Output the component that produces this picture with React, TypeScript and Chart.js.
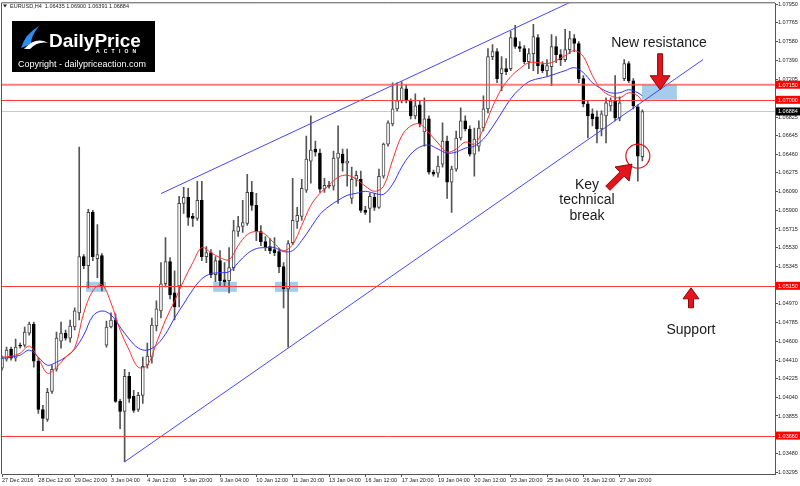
import React, { useEffect, useRef } from 'react';
import { Chart, registerables } from 'chart.js';

Chart.register(...registerables);

// ---- H4 EURUSD candles (bar index = position) ----
const opens = [
  1.0433, 1.0442, 1.0452, 1.0443, 1.0456, 1.0456, 1.0468, 1.0477, 1.0440, 1.0392,
  1.0382, 1.0410, 1.0432, 1.0460, 1.0468, 1.0463, 1.0474, 1.0488, 1.0544, 1.0535,
  1.0588, 1.0542, 1.0545, 1.0456, 1.0474, 1.0481, 1.0400, 1.0390, 1.0425, 1.0405,
  1.0392, 1.0406, 1.0436, 1.0444, 1.0475, 1.0490, 1.0517, 1.0539, 1.0508, 1.0515,
  1.0597, 1.0603, 1.0584, 1.0582, 1.0600, 1.0544, 1.0548, 1.0526, 1.0540, 1.0521,
  1.0520, 1.0533, 1.0569, 1.0574, 1.0577, 1.0608, 1.0595, 1.0569, 1.0559, 1.0554,
  1.0551, 1.0549, 1.0534, 1.0512, 1.0558, 1.0579, 1.0584, 1.0610, 1.0639, 1.0651,
  1.0647, 1.0611, 1.0615, 1.0614, 1.0642, 1.0646, 1.0637, 1.0602, 1.0621, 1.0621,
  1.0590, 1.0592, 1.0603, 1.0593, 1.0624, 1.0656, 1.0676, 1.0691, 1.0699, 1.0711,
  1.0699, 1.0684, 1.0695, 1.0668, 1.0681, 1.0628, 1.0627, 1.0636, 1.0659, 1.0618,
  1.0631, 1.0662, 1.0679, 1.0671, 1.0646, 1.0654, 1.0672, 1.0691, 1.0743, 1.0748,
  1.0726, 1.0731, 1.0731, 1.0762, 1.0753, 1.0751, 1.0738, 1.0746, 1.0762, 1.0735,
  1.0729, 1.0733, 1.0753, 1.0745, 1.0740, 1.0750, 1.0761, 1.0756, 1.0721, 1.0696,
  1.0686, 1.0683, 1.0671, 1.0684, 1.0694, 1.0699, 1.0682, 1.0721, 1.0736, 1.0719,
  1.0693, 1.06435,
];
const highs = [
  1.0445, 1.0454, 1.0454, 1.0462, 1.0458, 1.0474, 1.0479, 1.0479, 1.0443, 1.0396,
  1.0413, 1.0436, 1.0469, 1.0479, 1.0471, 1.0481, 1.0493, 1.0653, 1.0546, 1.0591,
  1.0590, 1.0576, 1.0547, 1.0480, 1.0488, 1.0487, 1.0402, 1.0432, 1.0429, 1.0411,
  1.0409, 1.0444, 1.0458, 1.0483, 1.0500, 1.0538, 1.0563, 1.0543, 1.0530, 1.0604,
  1.0613, 1.0612, 1.0587, 1.0619, 1.0619, 1.0554, 1.0551, 1.0544, 1.0550, 1.0538,
  1.0553, 1.0580, 1.0584, 1.0600, 1.0626, 1.0619, 1.0607, 1.0575, 1.0564, 1.0562,
  1.0563, 1.0552, 1.0538, 1.0560, 1.0622, 1.0593, 1.0621, 1.0664, 1.0684, 1.0659,
  1.0651, 1.0622, 1.0619, 1.0649, 1.0674, 1.0651, 1.0651, 1.0633, 1.0629, 1.0629,
  1.0594, 1.0607, 1.0607, 1.0631, 1.0657, 1.0679, 1.0717, 1.0717, 1.0718, 1.0715,
  1.0701, 1.0706, 1.0699, 1.0702, 1.0684, 1.0630, 1.0644, 1.0677, 1.0664, 1.0634,
  1.0669, 1.0692, 1.0684, 1.0674, 1.0672, 1.0679, 1.0704, 1.0751, 1.0755, 1.0751,
  1.0743, 1.0741, 1.0768, 1.0774, 1.0758, 1.0754, 1.0751, 1.0775, 1.0765, 1.0738,
  1.0740, 1.0765, 1.0763, 1.0750, 1.0770, 1.0768, 1.0765, 1.0758, 1.0724, 1.0699,
  1.0691, 1.0689, 1.0689, 1.0702, 1.0702, 1.0724, 1.0703, 1.0740, 1.0738, 1.0721,
  1.0695, 1.0690,
];
const lows = [
  1.0431, 1.0440, 1.0441, 1.0440, 1.0453, 1.0454, 1.0466, 1.0434, 1.0388, 1.0371,
  1.0380, 1.0408, 1.0430, 1.0453, 1.0461, 1.0459, 1.0471, 1.0481, 1.0532, 1.0513,
  1.0540, 1.0523, 1.0510, 1.0454, 1.0473, 1.0399, 1.0373, 1.0340, 1.0399, 1.0389,
  1.0390, 1.0398, 1.0433, 1.0438, 1.0470, 1.0483, 1.0514, 1.0502, 1.0481, 1.0494,
  1.0587, 1.0575, 1.0574, 1.0580, 1.0540, 1.0538, 1.0523, 1.0519, 1.0515, 1.0515,
  1.0508, 1.0530, 1.0564, 1.0568, 1.0575, 1.0590, 1.0560, 1.0555, 1.0550, 1.0547,
  1.0545, 1.0528, 1.0493, 1.0454, 1.0556, 1.0572, 1.0580, 1.0608, 1.0617, 1.0644,
  1.0608, 1.0608, 1.0612, 1.0610, 1.0597, 1.0629, 1.0614, 1.0597, 1.0614, 1.0588,
  1.0586, 1.0578, 1.0590, 1.0592, 1.0622, 1.0654, 1.0674, 1.0689, 1.0697, 1.0697,
  1.0681, 1.0681, 1.0673, 1.0654, 1.0626, 1.0624, 1.0623, 1.0633, 1.0602, 1.0588,
  1.0629, 1.0660, 1.0669, 1.0644, 1.0624, 1.0649, 1.0669, 1.0687, 1.0740, 1.0717,
  1.0709, 1.0725, 1.0729, 1.0751, 1.0748, 1.0736, 1.0731, 1.0729, 1.0726, 1.0727,
  1.0724, 1.0714, 1.0737, 1.0734, 1.0738, 1.0746, 1.0748, 1.0717, 1.0693, 1.0662,
  1.0674, 1.0657, 1.0664, 1.0657, 1.0689, 1.0679, 1.0679, 1.0719, 1.0717, 1.0691,
  1.0619, 1.06391,
];
const closes = [
  1.0443, 1.0451, 1.0443, 1.0454, 1.0455, 1.0469, 1.0477, 1.0440, 1.0392, 1.0383,
  1.0409, 1.0432, 1.0463, 1.0468, 1.0463, 1.0475, 1.0490, 1.0544, 1.0535, 1.0588,
  1.0544, 1.0546, 1.0514, 1.0474, 1.0481, 1.0400, 1.0390, 1.0425, 1.0403, 1.0391,
  1.0406, 1.0435, 1.0445, 1.0476, 1.0492, 1.0517, 1.0539, 1.0506, 1.0494, 1.0597,
  1.0603, 1.0583, 1.0582, 1.0600, 1.0544, 1.0548, 1.0526, 1.0540, 1.0520, 1.0519,
  1.0533, 1.0570, 1.0574, 1.0578, 1.0608, 1.0595, 1.0569, 1.0559, 1.0554, 1.0550,
  1.0548, 1.0534, 1.0512, 1.0557, 1.0580, 1.0585, 1.0612, 1.0641, 1.0650, 1.0648,
  1.0611, 1.0615, 1.0614, 1.0642, 1.0647, 1.0637, 1.0639, 1.0621, 1.0625, 1.0590,
  1.0588, 1.0604, 1.0593, 1.0624, 1.0656, 1.0677, 1.0691, 1.0699, 1.0712, 1.0699,
  1.0684, 1.0694, 1.0676, 1.0681, 1.0628, 1.0626, 1.0634, 1.0659, 1.0618, 1.0631,
  1.0662, 1.0679, 1.0671, 1.0646, 1.0661, 1.0672, 1.0691, 1.0743, 1.0748, 1.0721,
  1.0731, 1.0728, 1.0762, 1.0753, 1.0751, 1.0738, 1.0746, 1.0763, 1.0734, 1.0729,
  1.0734, 1.0753, 1.0745, 1.0740, 1.0750, 1.0761, 1.0756, 1.0721, 1.0696, 1.0684,
  1.0681, 1.0671, 1.0686, 1.0697, 1.0699, 1.0682, 1.0697, 1.0736, 1.0719, 1.0694,
  1.0644, 1.06884,
];

// moving averages read every 2nd bar (last point = last bar)
const redMA = [
  1.0444, 1.0445, 1.0448, 1.0455, 1.0443, 1.0428, 1.0434, 1.0444, 1.0453, 1.0488,
  1.0510, 1.0516, 1.0498, 1.0471, 1.0451, 1.0434, 1.0436, 1.0458, 1.0481, 1.0500,
  1.0520, 1.0538, 1.0553, 1.0548, 1.0543, 1.0541, 1.0555, 1.0566, 1.0569, 1.0566,
  1.0557, 1.0550, 1.0556, 1.0575, 1.0595, 1.0607, 1.0615, 1.0623, 1.0625, 1.0621,
  1.0614, 1.0609, 1.0614, 1.0640, 1.0664, 1.0674, 1.0676, 1.0667, 1.0657, 1.0648,
  1.0651, 1.0658, 1.0656, 1.0671, 1.0693, 1.0711, 1.0723, 1.0731, 1.0737, 1.0737,
  1.0736, 1.0739, 1.0744, 1.0749, 1.0743, 1.0724, 1.0710, 1.0704, 1.0702, 1.0707,
  1.0704, 1.0698,
];
const blueMA = [
  1.0443, 1.0444, 1.0446, 1.0451, 1.0444, 1.0436, 1.0439, 1.0444, 1.0452, 1.0466,
  1.0485, 1.0490, 1.0486, 1.0474, 1.0462, 1.0453, 1.0451, 1.0456, 1.0467, 1.0483,
  1.0497, 1.0511, 1.0522, 1.0527, 1.0528, 1.0529, 1.0538, 1.0547, 1.0552, 1.0553,
  1.0553, 1.0549, 1.0550, 1.0560, 1.0573, 1.0586, 1.0594, 1.0600, 1.0605, 1.0607,
  1.0609, 1.0607, 1.0606, 1.0616, 1.0633, 1.0646, 1.0653, 1.0655, 1.0651, 1.0647,
  1.0648, 1.0652, 1.0654, 1.0661, 1.0673, 1.0687, 1.0701, 1.0711, 1.0718, 1.0721,
  1.0723, 1.0726, 1.0729, 1.0732, 1.0727, 1.0717, 1.0711, 1.0707, 1.0707, 1.0710,
  1.0707, 1.0704,
];

const priceTicks = [
  1.0795, 1.07765, 1.0758, 1.0739, 1.07205, 1.07015, 1.06825, 1.06645, 1.0646, 1.06275,
  1.0609, 1.059, 1.05715, 1.0553, 1.05345, 1.0516, 1.0497, 1.04785, 1.046, 1.0441,
  1.04225, 1.0404, 1.03855, 1.0367, 1.0348, 1.03295,
];
const dateTickBars = [0, 8, 16, 24, 32, 40, 48, 56, 64, 72, 80, 88, 96, 104, 112, 120, 128, 136];
const dateLabels = [
  '27 Dec 2016', '28 Dec 12:00', '29 Dec 20:00', '3 Jan 04:00', '4 Jan 12:00', '5 Jan 20:00',
  '9 Jan 04:00', '10 Jan 12:00', '11 Jan 20:00', '13 Jan 04:00', '16 Jan 12:00', '17 Jan 20:00',
  '19 Jan 04:00', '20 Jan 12:00', '23 Jan 20:00', '25 Jan 04:00', '26 Jan 12:00', '27 Jan 20:00',
];

const levelPrices = [1.0715, 1.07, 1.0515, 1.0366];
const bidPrice = 1.06884;
const headerText = 'EURUSD,H4  1.06435 1.06900 1.06391 1.06884';

// trend channel (bar index, price)
const upperChannelBars = [35.0, 129.5];
const upperChannelPrices = [1.06067, 1.08063];
const lowerChannelBars = [26.93, 154.35];
const lowerChannelPrices = [1.03397, 1.074];

// shaded zones
const zoneBars = [[18.5, 22.9], [46.5, 51.7], [60.1, 65.2], [140.9, 148.6]];
const zonePrices = [[1.0509, 1.0519], [1.0509, 1.0519], [1.0509, 1.0519], [1.07, 1.0715]];

// notes
const noteTexts = ['New resistance', 'Key', 'technical', 'break', 'Support'];
const noteBars = [144.66, 128.8, 128.8, 128.8, 151.7];
const notePrices = [1.0756, 1.0615, 1.06, 1.0584, 1.0471];

const circleBar = 140.0;
const circlePrice = 1.0644;

// arrows: tip (bar, price), direction in degrees
const arrowBars = [144.9, 138.7, 151.7];
const arrowPrices = [1.071, 1.0636, 1.0513];
const arrowAngles = [90, -45, -90];

const FONT = '"Liberation Sans", Arial, sans-serif';

function drawArrow(ctx: CanvasRenderingContext2D, tx: number, ty: number, deg: number, len: number, sw: number, hw: number, hl: number) {
  const a = (deg * Math.PI) / 180;
  const dx = Math.cos(a), dy = Math.sin(a);
  const nx = -dy, ny = dx;
  const bx = tx - dx * hl, by = ty - dy * hl;
  const ax = tx - dx * len, ay = ty - dy * len;
  ctx.beginPath();
  ctx.moveTo(ax + (nx * sw) / 2, ay + (ny * sw) / 2);
  ctx.lineTo(bx + (nx * sw) / 2, by + (ny * sw) / 2);
  ctx.lineTo(bx + (nx * hw) / 2, by + (ny * hw) / 2);
  ctx.lineTo(tx, ty);
  ctx.lineTo(bx - (nx * hw) / 2, by - (ny * hw) / 2);
  ctx.lineTo(bx - (nx * sw) / 2, by - (ny * sw) / 2);
  ctx.lineTo(ax - (nx * sw) / 2, ay - (ny * sw) / 2);
  ctx.closePath();
  ctx.fillStyle = '#e3141b';
  ctx.fill();
  ctx.strokeStyle = '#8c0a0a';
  ctx.lineWidth = 1;
  ctx.stroke();
}

const overlay = {
  id: 'overlay',
  beforeDatasetsDraw(chart: any) {
    const { ctx, chartArea, scales } = chart;
    const x = scales.x, y = scales.y;
    ctx.save();
    ctx.beginPath();
    ctx.rect(chartArea.left, chartArea.top, chartArea.right - chartArea.left, chartArea.bottom - chartArea.top);
    ctx.clip();
    ctx.fillStyle = 'rgb(164,204,236)';
    zoneBars.forEach((zb, i) => {
      const x0 = x.getPixelForValue(zb[0]);
      const x1 = x.getPixelForValue(zb[1]);
      const y0 = y.getPixelForValue(zonePrices[i][1]);
      const y1 = y.getPixelForValue(zonePrices[i][0]);
      ctx.fillRect(x0, y0, x1 - x0, y1 - y0);
    });
    // bid line
    const by = Math.round(y.getPixelForValue(bidPrice)) + 0.5;
    ctx.strokeStyle = '#c8c8c8';
    ctx.lineWidth = 1;
    ctx.beginPath();
    ctx.moveTo(chartArea.left, by);
    ctx.lineTo(chartArea.right, by);
    ctx.stroke();
    ctx.restore();
  },
  afterDatasetsDraw(chart: any) {
    const { ctx, chartArea, scales } = chart;
    const x = scales.x, y = scales.y;
    ctx.save();
    ctx.beginPath();
    ctx.rect(chartArea.left, chartArea.top, chartArea.right - chartArea.left, chartArea.bottom - chartArea.top);
    ctx.clip();
    levelPrices.forEach((p, i) => {
      const py = y.getPixelForValue(p);
      ctx.strokeStyle = i === 0 ? 'rgba(255,80,80,0.75)' : '#ff3b3b';
      ctx.lineWidth = i === 0 ? 2 : 1;
      ctx.beginPath();
      ctx.moveTo(chartArea.left, i === 0 ? py : Math.round(py) + 0.5);
      ctx.lineTo(chartArea.right, i === 0 ? py : Math.round(py) + 0.5);
      ctx.stroke();
    });
    // circle
    ctx.strokeStyle = '#e01818';
    ctx.lineWidth = 1.2;
    ctx.beginPath();
    ctx.arc(x.getPixelForValue(circleBar), y.getPixelForValue(circlePrice), 12, 0, Math.PI * 2);
    ctx.stroke();
    ctx.restore();

    // arrows
    ctx.save();
    const sizes = [
      [36, 5, 20, 14],
      [34, 6, 20, 14],
      [20, 5, 16, 11],
    ];
    arrowBars.forEach((b, i) => {
      const s = sizes[i];
      drawArrow(ctx, x.getPixelForValue(b), y.getPixelForValue(arrowPrices[i]), arrowAngles[i], s[0], s[1], s[2], s[3]);
    });
    // notes
    ctx.fillStyle = '#1a1a1a';
    ctx.font = `14px ${FONT}`;
    ctx.textAlign = 'center';
    ctx.textBaseline = 'middle';
    noteTexts.forEach((t, i) => {
      ctx.fillText(t, x.getPixelForValue(noteBars[i]), y.getPixelForValue(notePrices[i]));
    });
    ctx.restore();
  },
  afterDraw(chart: any) {
    const { ctx, chartArea, scales } = chart;
    const y = scales.y;
    ctx.save();
    // frame left / top
    ctx.strokeStyle = '#555';
    ctx.lineWidth = 1;
    ctx.beginPath();
    ctx.moveTo(chartArea.left - 0.5, chartArea.bottom);
    ctx.lineTo(chartArea.left - 0.5, chartArea.top - 0.5);
    ctx.lineTo(chartArea.right, chartArea.top - 0.5);
    ctx.stroke();

    // price markers on axis
    ctx.font = `5.5px ${FONT}`;
    ctx.textAlign = 'left';
    ctx.textBaseline = 'middle';
    const mark = (p: number, bg: string) => {
      const py = y.getPixelForValue(p);
      ctx.fillStyle = bg;
      ctx.fillRect(chartArea.right + 1, py - 4, 800 - chartArea.right - 1, 8);
      ctx.fillStyle = '#ffffff';
      ctx.fillText(p.toFixed(5), chartArea.right + 3, py + 0.5);
    };
    levelPrices.forEach((p) => mark(p, '#ff0000'));
    mark(bidPrice, '#000000');

    // header
    ctx.fillStyle = '#222';
    ctx.beginPath();
    ctx.moveTo(3, 4.5);
    ctx.lineTo(7, 4.5);
    ctx.lineTo(5, 7.5);
    ctx.closePath();
    ctx.fill();
    ctx.font = `5.5px ${FONT}`;
    ctx.textBaseline = 'middle';
    ctx.fillText(headerText, 10, 6);

    // logo
    ctx.fillStyle = '#000';
    ctx.fillRect(12, 21, 143, 51);
    ctx.fillStyle = '#2a8ff0';
    ctx.beginPath();
    ctx.moveTo(21, 48);
    ctx.quadraticCurveTo(25, 34, 39, 26);
    ctx.quadraticCurveTo(31, 36, 31, 44);
    ctx.closePath();
    ctx.fill();
    ctx.fillStyle = '#ffffff';
    ctx.beginPath();
    ctx.moveTo(24, 49);
    ctx.quadraticCurveTo(36, 36, 48, 43);
    ctx.quadraticCurveTo(38, 41, 30, 49);
    ctx.closePath();
    ctx.fill();
    ctx.font = `bold 19px ${FONT}`;
    ctx.textBaseline = 'alphabetic';
    ctx.fillText('DailyPrice', 49, 46.5);
    ctx.font = `bold 5px ${FONT}`;
    (ctx as any).letterSpacing = '4.2px';
    ctx.fillText('ACTION', 96, 52.5);
    (ctx as any).letterSpacing = '0px';
    ctx.font = `9px ${FONT}`;
    ctx.fillText('Copyright - dailypriceaction.com', 18, 66.5);
    ctx.restore();
  },
};

export default function App() {
  const ref = useRef<HTMLCanvasElement>(null);
  useEffect(() => {
    if (!ref.current) return;
    const idx = closes.map((_, i) => i);
    const bull = idx.map((i) => closes[i] >= opens[i]);
    const maX = redMA.map((_, i) => Math.min(i * 2, closes.length - 1));
    const chart = new Chart(ref.current, {
      type: 'bar',
      data: {
        datasets: [
          {
            type: 'line',
            data: redMA.map((v, i) => ({ x: maX[i], y: v })),
            borderColor: '#ff2e2e',
            borderWidth: 1,
            pointRadius: 0,
            tension: 0.35,
            order: 0,
          } as any,
          {
            type: 'line',
            data: blueMA.map((v, i) => ({ x: maX[i], y: v })),
            borderColor: '#3434ff',
            borderWidth: 1,
            pointRadius: 0,
            tension: 0.35,
            order: 0,
          } as any,
          {
            type: 'line',
            data: upperChannelBars.map((b, i) => ({ x: b, y: upperChannelPrices[i] })),
            borderColor: '#4646ff',
            borderWidth: 1,
            pointRadius: 0,
            order: 0,
          } as any,
          {
            type: 'line',
            data: lowerChannelBars.map((b, i) => ({ x: b, y: lowerChannelPrices[i] })),
            borderColor: '#4646ff',
            borderWidth: 1,
            pointRadius: 0,
            order: 0,
          } as any,
          {
            type: 'bar',
            data: idx.map((i) => ({ x: i, y: [opens[i], closes[i]] })),
            barThickness: 3,
            minBarLength: 1,
            backgroundColor: bull.map((b) => (b ? '#ffffff' : '#000000')),
            borderColor: bull.map((b) => (b ? '#444444' : '#000000')),
            borderWidth: 1,
            borderSkipped: false,
            grouped: false,
            order: 1,
          } as any,
          {
            type: 'bar',
            data: idx.map((i) => ({ x: i, y: [lows[i], highs[i]] })),
            barThickness: 1,
            backgroundColor: '#555555',
            borderWidth: 0,
            grouped: false,
            order: 2,
          } as any,
        ],
      },
      options: {
        animation: false,
        responsive: false,
        events: [],
        layout: { padding: { left: 2, top: 2, right: 0, bottom: 0 } },
        plugins: { legend: { display: false }, tooltip: { enabled: false } },
        scales: {
          x: {
            type: 'linear',
            min: 0,
            max: 170.2,
            offset: false,
            grid: { display: true, drawOnChartArea: false, drawTicks: true, tickLength: 3, color: '#555', offset: false },
            border: { display: true, color: '#555', width: 1 },
            ticks: {
              autoSkip: false,
              maxRotation: 0,
              align: 'start',
              padding: 0,
              color: '#222',
              font: { family: FONT, size: 5.5 },
              callback: (v: any) => {
                const k = dateTickBars.indexOf(Number(v));
                return k >= 0 ? dateLabels[k] : '';
              },
            },
            afterBuildTicks: (axis: any) => {
              axis.ticks = dateTickBars.map((v) => ({ value: v }));
            },
            afterFit: (axis: any) => {
              axis.height = 12;
            },
          },
          y: {
            type: 'linear',
            position: 'right',
            min: 1.03278,
            max: 1.0796,
            grid: { display: true, drawOnChartArea: false, drawTicks: true, tickLength: 3, color: '#555' },
            border: { display: true, color: '#555', width: 1 },
            ticks: {
              autoSkip: false,
              padding: 0,
              color: '#222',
              font: { family: FONT, size: 5.5 },
              callback: (v: any) => Number(v).toFixed(5),
            },
            afterBuildTicks: (axis: any) => {
              axis.ticks = priceTicks.map((v) => ({ value: v }));
            },
            afterFit: (axis: any) => {
              axis.width = 25;
            },
          },
        },
      } as any,
      plugins: [overlay],
    });
    return () => chart.destroy();
  }, []);

  return (
    <div style={{ position: 'absolute', left: 0, top: 0, width: 800, height: 486, background: '#ffffff' }}>
      <canvas ref={ref} width={800} height={486} style={{ display: 'block', width: 800, height: 486 }} />
    </div>
  );
}
